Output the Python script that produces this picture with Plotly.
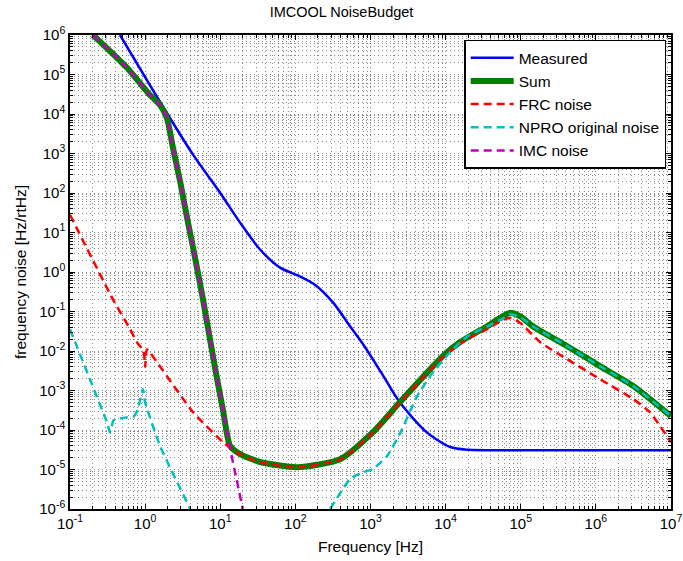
import numpy as np
import plotly.graph_objects as go

# ---- data (log10 of frequency [Hz], log10 of noise [Hz/rtHz]) ----
measured_logf = [-0.334, 0.198, 0.638, 1.0, 1.264, 1.53, 1.796, 2.06, 2.26, 2.50, 2.73, 2.93,
                 3.16, 3.39, 3.75, 4.06, 4.3, 5.0, 6.0, 7.0]
measured_logv = [6.0, 4.31, 2.97, 2.0, 1.25, 0.57, 0.11, -0.11, -0.32, -0.77, -1.38, -1.91,
                 -2.6, -3.30, -4.06, -4.43, -4.50, -4.51, -4.51, -4.51]

sum_logf = [-0.694, -0.241, 0.065, 0.198, 0.29, 0.37, 0.465, 0.571, 0.638, 0.771, 0.864, 0.957,
            1.037, 1.13, 1.264, 1.53, 2.023, 2.595, 3.03, 3.39, 3.83, 4.0, 4.19, 4.37, 4.55, 4.72,
            4.86, 5.0, 5.165, 5.62, 6.06, 6.50, 7.0]
sum_logv = [6.0, 5.17, 4.48, 4.23, 3.90, 3.15, 2.30, 1.25, 0.62, -0.70, -1.71, -2.70,
            -3.50, -4.40, -4.61, -4.81, -4.94, -4.74, -4.06, -3.30, -2.39, -2.06, -1.78, -1.57,
            -1.38, -1.17, -1.03, -1.13, -1.38, -1.88, -2.39, -2.89, -3.65]

frc_logf = [-1.0, -0.427, -0.2, -0.108, -0.02, 0.0, 0.025, 0.198, 0.638, 1.037, 1.13, 1.264,
            1.53, 2.023, 2.595, 3.03, 3.39, 3.83, 4.0, 4.19, 4.37, 4.55, 4.72, 4.86, 5.0, 5.26,
            5.62, 6.06, 6.50, 6.72, 7.0]
frc_logv = [1.45, -0.70, -1.45, -1.78, -2.0, -2.4, -1.96, -2.39, -3.55, -4.31, -4.45, -4.62,
            -4.82, -4.95, -4.75, -4.07, -3.31, -2.41, -2.09, -1.82, -1.62, -1.45, -1.25, -1.16,
            -1.30, -1.78, -2.21, -2.72, -3.22, -3.55, -4.31]

npro_logf = [-1.0, -0.5, -0.467, -0.42, -0.36, -0.25, -0.15, -0.1, -0.03, 0.0, 0.2, 0.6,
             None,
             2.462, 2.73, 2.90, 3.03, 3.22, 3.39, 3.62, 3.83, 4.06, 4.29, 4.55, 4.77, 4.86,
             5.0, 5.165, 5.62, 6.06, 6.50, 7.0]
npro_logv = [-1.45, -3.85, -4.06, -3.75, -3.72, -3.68, -3.65, -3.5, -2.97, -3.3, -4.41, -6.0,
             None,
             -6.0, -5.24, -5.07, -4.99, -4.66, -4.10, -3.15, -2.54, -2.03, -1.63, -1.38, -1.17,
             -1.07, -1.15, -1.38, -1.88, -2.39, -2.89, -3.65]

imc_logf = [-0.694, -0.241, 0.065, 0.198, 0.29, 0.37, 0.465, 0.571, 0.638, 0.771, 0.864, 0.957,
            1.037, 1.13, 1.30]
imc_logv = [6.0, 5.17, 4.48, 4.23, 3.90, 3.15, 2.30, 1.25, 0.62, -0.70, -1.71, -2.70,
            -3.50, -4.45, -6.0]

x_exponents = list(range(-1, 8))
y_exponents = list(range(-6, 7))


def tolin(vals):
    return [None if v is None else 10 ** v for v in vals]


FONT = "Liberation Sans, Arial, Helvetica, sans-serif"
DASH = "8px,5px"

fig = go.Figure()
fig.add_trace(go.Scatter(x=tolin(measured_logf), y=tolin(measured_logv), mode="lines",
                         name="Measured",
                         line=dict(color="#0000FF", width=2.5, shape="spline", smoothing=0.8)))
fig.add_trace(go.Scatter(x=tolin(sum_logf), y=tolin(sum_logv), mode="lines",
                         name="Sum",
                         line=dict(color="#008000", width=6, shape="spline", smoothing=0.6)))
fig.add_trace(go.Scatter(x=tolin(frc_logf), y=tolin(frc_logv), mode="lines",
                         name="FRC noise",
                         line=dict(color="#FF0000", width=2.5, dash=DASH, shape="spline", smoothing=0.5)))
fig.add_trace(go.Scatter(x=tolin(npro_logf), y=tolin(npro_logv), mode="lines", connectgaps=False,
                         name="NPRO original noise",
                         line=dict(color="#00BFBF", width=2.5, dash=DASH, shape="spline", smoothing=0.5)))
fig.add_trace(go.Scatter(x=tolin(imc_logf), y=tolin(imc_logv), mode="lines",
                         name="IMC noise",
                         line=dict(color="#BF00BF", width=2.5, dash=DASH, shape="spline", smoothing=0.6)))


def minor_vals(exps):
    out = []
    for e in exps[:-1]:
        for d in range(2, 10):
            out.append(d * 10 ** e)
    return out


grid_common = dict(showgrid=True, gridcolor="rgba(0,0,0,0.45)", gridwidth=1, griddash="1px,3px")
TITLE_FONT = dict(size=15.5, family=FONT, color="black")
TICK_FONT = dict(size=15, family=FONT, color="black")

fig.update_xaxes(type="log", range=[-1, 7], automargin=False,
                 tickmode="array", tickvals=[10 ** e for e in x_exponents],
                 ticktext=[f"10<sup>{e}</sup>" for e in x_exponents],
                 ticks="inside", ticklen=5, tickcolor="black",
                 showline=True, linecolor="black", linewidth=1.5, mirror="ticks",
                 zeroline=False,
                 minor=dict(tickmode="array", tickvals=minor_vals(x_exponents), ticks="inside",
                            ticklen=3, tickcolor="black", **grid_common),
                 title=dict(text="Frequency [Hz]", font=TITLE_FONT, standoff=10),
                 tickfont=TICK_FONT,
                 **grid_common)
fig.update_yaxes(type="log", range=[-6, 6], automargin=False,
                 tickmode="array", tickvals=[10 ** e for e in y_exponents],
                 ticktext=[f"10<sup>{e}</sup>" for e in y_exponents],
                 ticks="inside", ticklen=5, tickcolor="black",
                 showline=True, linecolor="black", linewidth=1.5, mirror="ticks",
                 zeroline=False,
                 minor=dict(tickmode="array", tickvals=minor_vals(y_exponents), ticks="inside",
                            ticklen=3, tickcolor="black", **grid_common),
                 title=dict(text="frequency noise [Hz/rtHz]", font=TITLE_FONT, standoff=9),
                 tickfont=TICK_FONT,
                 **grid_common)

fig.update_layout(
    width=683, height=561,
    margin=dict(l=70, r=12, t=35, b=52),
    paper_bgcolor="white", plot_bgcolor="white",
    title=dict(text="IMCOOL NoiseBudget", x=0.5, xanchor="center", y=0.978, yanchor="middle",
               font=dict(size=14.5, family=FONT, color="black")),
    font=dict(family=FONT, color="black"),
    showlegend=True,
    legend=dict(x=0.992, y=0.99, xanchor="right", yanchor="top",
                bgcolor="white", bordercolor="black", borderwidth=1.5,
                font=dict(size=15.5, family=FONT, color="black"),
                itemwidth=43, tracegroupgap=0),
)

fig.write_html("out.html")
